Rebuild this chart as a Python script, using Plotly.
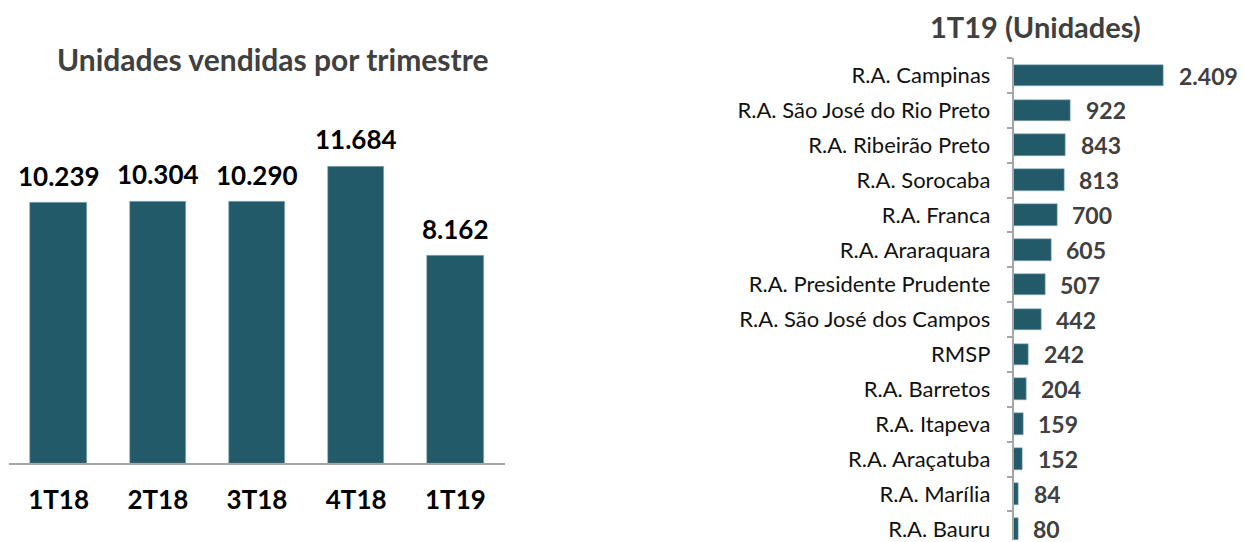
import plotly.graph_objects as go

# ---- data ----
quarters = ["1T18", "2T18", "3T18", "4T18", "1T19"]
units_by_quarter = [10239, 10304, 10290, 11684, 8162]

regions = [
    "R.A. Campinas", "R.A. São José do Rio Preto", "R.A. Ribeirão Preto",
    "R.A. Sorocaba", "R.A. Franca", "R.A. Araraquara", "R.A. Presidente Prudente",
    "R.A. São José dos Campos", "RMSP", "R.A. Barretos", "R.A. Itapeva",
    "R.A. Araçatuba", "R.A. Marília", "R.A. Bauru",
]
units_by_region = [2409, 922, 843, 813, 700, 605, 507, 442, 242, 204, 159, 152, 84, 80]

# ---- layout constants ----
W, H = 1244, 542
BAR = "#235A69"
FONT = "Lato"

def fmt(v):
    return f"{v:,}".replace(",", ".")

fig = go.Figure()

# left chart
fig.add_trace(go.Bar(
    x=quarters, y=units_by_quarter, marker=dict(color=BAR, line=dict(color="#8fb0b8", width=0.6)),
    width=0.57, xaxis="x", yaxis="y", hoverinfo="skip", showlegend=False,
))
# right chart
fig.add_trace(go.Bar(
    x=units_by_region, y=regions, orientation="h", marker=dict(color=BAR, line=dict(color="#8fb0b8", width=0.6)),
    width=0.62, xaxis="x2", yaxis="y2", hoverinfo="skip", showlegend=False,
))

annotations = []
for q, v in zip(quarters, units_by_quarter):
    annotations.append(dict(x=q, y=v, xref="x", yref="y", text=f"<b>{fmt(v)}</b>",
                            showarrow=False, yanchor="bottom", yshift=9,
                            font=dict(family=FONT, size=26, color="#000000")))
for r, v in zip(regions, units_by_region):
    annotations.append(dict(x=v, y=r, xref="x2", yref="y2", text=f"<b>{fmt(v)}</b>",
                            showarrow=False, xanchor="left", xshift=13, yshift=0,
                            font=dict(family=FONT, size=23, color="#404040")))
annotations.append(dict(x=272 / W, y=1 - 59 / H, xref="paper", yref="paper",
                        text="<b>Unidades vendidas por trimestre</b>", showarrow=False,
                        xanchor="center", yanchor="middle",
                        font=dict(family=FONT, size=30, color="#404040")))
annotations.append(dict(x=1035 / W, y=1 - 27 / H, xref="paper", yref="paper",
                        text="<b>1T19 (Unidades)</b>", showarrow=False,
                        xanchor="center", yanchor="middle",
                        font=dict(family=FONT, size=29, color="#404040")))

# left axes geometry
L_x0, L_x1 = 9, 505
L_top, L_base = 100, 465
px_per_unit_L = 298 / 11684
yrange_L = (L_base - L_top) / px_per_unit_L

# right axes geometry
R_x0, R_x1 = 1013.5, 1232
R_top = 58.3
row_px = 35.0
px_per_unit_R = 150 / 2409
xrange_R = (R_x1 - R_x0) / px_per_unit_R
rows_visible = (H - R_top) / row_px

fig.update_layout(
    width=W, height=H, margin=dict(l=0, r=0, t=0, b=0),
    paper_bgcolor="white", plot_bgcolor="white",
    font=dict(family=FONT),
    annotations=annotations,
    bargap=0,
    xaxis=dict(domain=[L_x0 / W, L_x1 / W], anchor="y", showline=True, linecolor="#A6A6A6",
               linewidth=2, ticks="", showgrid=False, ticklabelstandoff=13,
               tickfont=dict(family=FONT, size=26, color="#000000", weight="bold"),
               categoryorder="array", categoryarray=quarters),
    yaxis=dict(domain=[(H - L_base) / H, (H - L_top) / H], anchor="x", range=[0, yrange_L],
               visible=False, showgrid=False),
    xaxis2=dict(domain=[R_x0 / W, R_x1 / W], anchor="y2", range=[0, xrange_R], visible=False,
                showgrid=False),
    yaxis2=dict(domain=[0, (H - R_top) / H], anchor="x2", showline=True, linecolor="#A6A6A6",
                linewidth=1.5, ticks="outside", ticklen=5, tickcolor="#A6A6A6", tickwidth=1.5,
                tickson="boundaries", showgrid=False, ticklabelstandoff=17,
                categoryorder="array", categoryarray=regions,
                range=[-0.5 + rows_visible, -0.5],
                tickfont=dict(family=FONT, size=22, color="#111111")),
)

fig.write_html("out.html", config={"displayModeBar": False},
               post_script="document.body.style.margin='0';")
